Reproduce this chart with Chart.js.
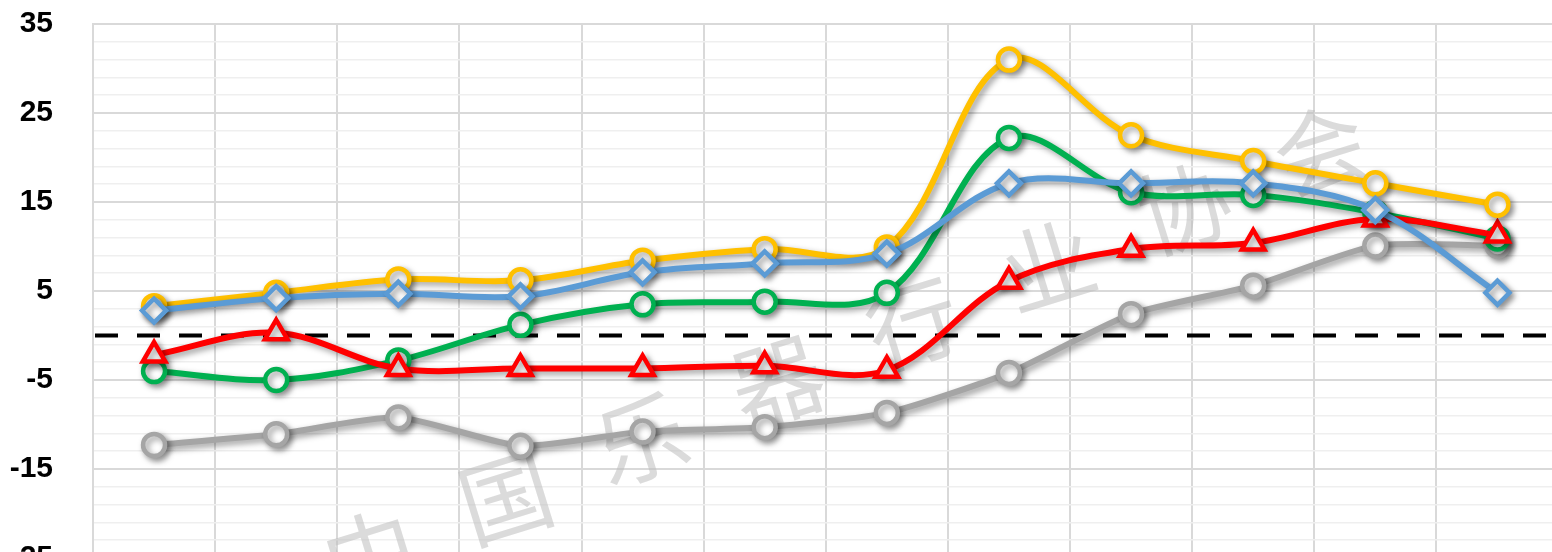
<!DOCTYPE html>
<html>
<head>
<meta charset="utf-8">
<script src="https://cdn.jsdelivr.net/npm/chart.js@4/dist/chart.umd.min.js"></script>
<style>
  html, body { margin: 0; padding: 0; background: #fff; overflow: hidden; }
  canvas { display: block; }
</style>
</head>
<body>
<canvas id="chart" width="1576" height="580"></canvas>
<script>
// Data
const categories = ['1', '2', '3', '4', '5', '6', '7', '8', '9', '10', '11', '12'];
const yellowVals = [3.3, 4.8, 6.3, 6.2, 8.4, 9.7, 9.9, 31.0, 22.5, 19.6, 17.1, 14.7];
const blueVals   = [2.8, 4.2, 4.7, 4.4, 7.1, 8.1, 9.2, 17.1, 17.1, 17.1, 14.1, 4.8];
const greenVals  = [-4.0, -5.0, -2.8, 1.2, 3.5, 3.8, 4.8, 22.2, 16.1, 15.8, 13.8, 10.9];
const redVals    = [-2.2, 0.3, -3.7, -3.7, -3.7, -3.4, -3.9, 6.1, 9.7, 10.4, 13.1, 11.3];
const greyVals   = [-12.3, -11.1, -9.2, -12.4, -10.8, -10.3, -8.7, -4.2, 2.4, 5.6, 10.1, 10.1];
const yMin = -25, yMax = 35;
const watermark = '中国乐器行业协会';

const chartLeft = 93, chartTop = 24;

function series(data, color, style, radius, tension) {
  return {
    data,
    borderColor: color,
    borderWidth: 6,
    tension: tension,
    pointStyle: style,
    pointRadius: radius,
    pointBorderWidth: 4.5,
    pointBackgroundColor: '#fff',
    pointBorderColor: color,
  };
}

// zero line + watermark under the series, then shadow for the series
const decor = {
  id: 'decor',
  beforeDatasetsDraw(chart) {
    const { ctx, chartArea, scales } = chart;
    ctx.save();
    // watermark
    ctx.fillStyle = 'rgba(190,190,190,0.55)';
    ctx.font = '400 92px "Noto Sans CJK SC"';
    ctx.textAlign = 'center';
    ctx.textBaseline = 'middle';
    const x0 = 370, y0 = 555, x1 = 1320, y1 = 150;
    const n = watermark.length;
    for (let i = 0; i < n; i++) {
      const t = i / (n - 1);
      ctx.save();
      ctx.translate(x0 + (x1 - x0) * t, y0 + (y1 - y0) * t);
      ctx.rotate(-0.3);
      ctx.fillText(watermark[i], 0, 0);
      ctx.restore();
    }
    // dashed zero line
    const y = scales.y.getPixelForValue(0);
    ctx.strokeStyle = '#000';
    ctx.lineWidth = 4;
    ctx.setLineDash([23, 19]);
    ctx.beginPath();
    ctx.moveTo(chartArea.left + 2, y);
    ctx.lineTo(chartArea.right, y);
    ctx.stroke();
    ctx.restore();

    ctx.save();
    ctx.shadowColor = 'rgba(0,0,0,0.4)';
    ctx.shadowBlur = 6;
    ctx.shadowOffsetX = 3;
    ctx.shadowOffsetY = 3;
  },
  afterDatasetsDraw(chart) {
    chart.ctx.restore();
  }
};

new Chart(document.getElementById('chart'), {
  type: 'line',
  data: {
    labels: categories,
    // index 0 is drawn on top
    datasets: [
      series(blueVals, '#5B9BD5', 'rectRot', 12, 0.35),
      series(yellowVals, '#FFC000', 'circle', 11, 0.35),
      series(redVals, '#FF0000', 'triangle', 13, 0.35),
      series(greenVals, '#00B050', 'circle', 11, 0.35),
      series(greyVals, '#A5A5A5', 'circle', 11, 0.2),
    ]
  },
  options: {
    responsive: false, animation: false,
    layout: { padding: { top: chartTop, right: 9, bottom: 22, left: 0 } },
    plugins: { legend: { display: false }, tooltip: { enabled: false } },
    scales: {
      x: {
        offset: true,
        grid: { offset: true, color: '#d9d9d9', lineWidth: 2, drawTicks: false },
        border: { display: false },
        ticks: { display: false },
        afterFit: s => { s.height = 0; }
      },
      y: {
        min: yMin, max: yMax,
        ticks: {
          stepSize: 2,
          autoSkip: false,
          padding: 40,
          color: '#000',
          font: { family: 'Liberation Sans', size: 30, weight: 'bold' },
          callback: v => ((v - yMin) % 10 === 0 ? v : '')
        },
        grid: {
          drawTicks: false,
          color: c => ((c.tick.value - yMin) % 10 === 0 ? '#d9d9d9' : '#efefef'),
          lineWidth: c => ((c.tick.value - yMin) % 10 === 0 ? 2 : 1.5)
        },
        border: { color: '#d9d9d9', width: 2 },
        afterFit: s => { s.width = chartLeft; s.paddingTop = 0; s.paddingBottom = 0; }
      }
    }
  },
  plugins: [decor]
});
</script>
</body>
</html>
